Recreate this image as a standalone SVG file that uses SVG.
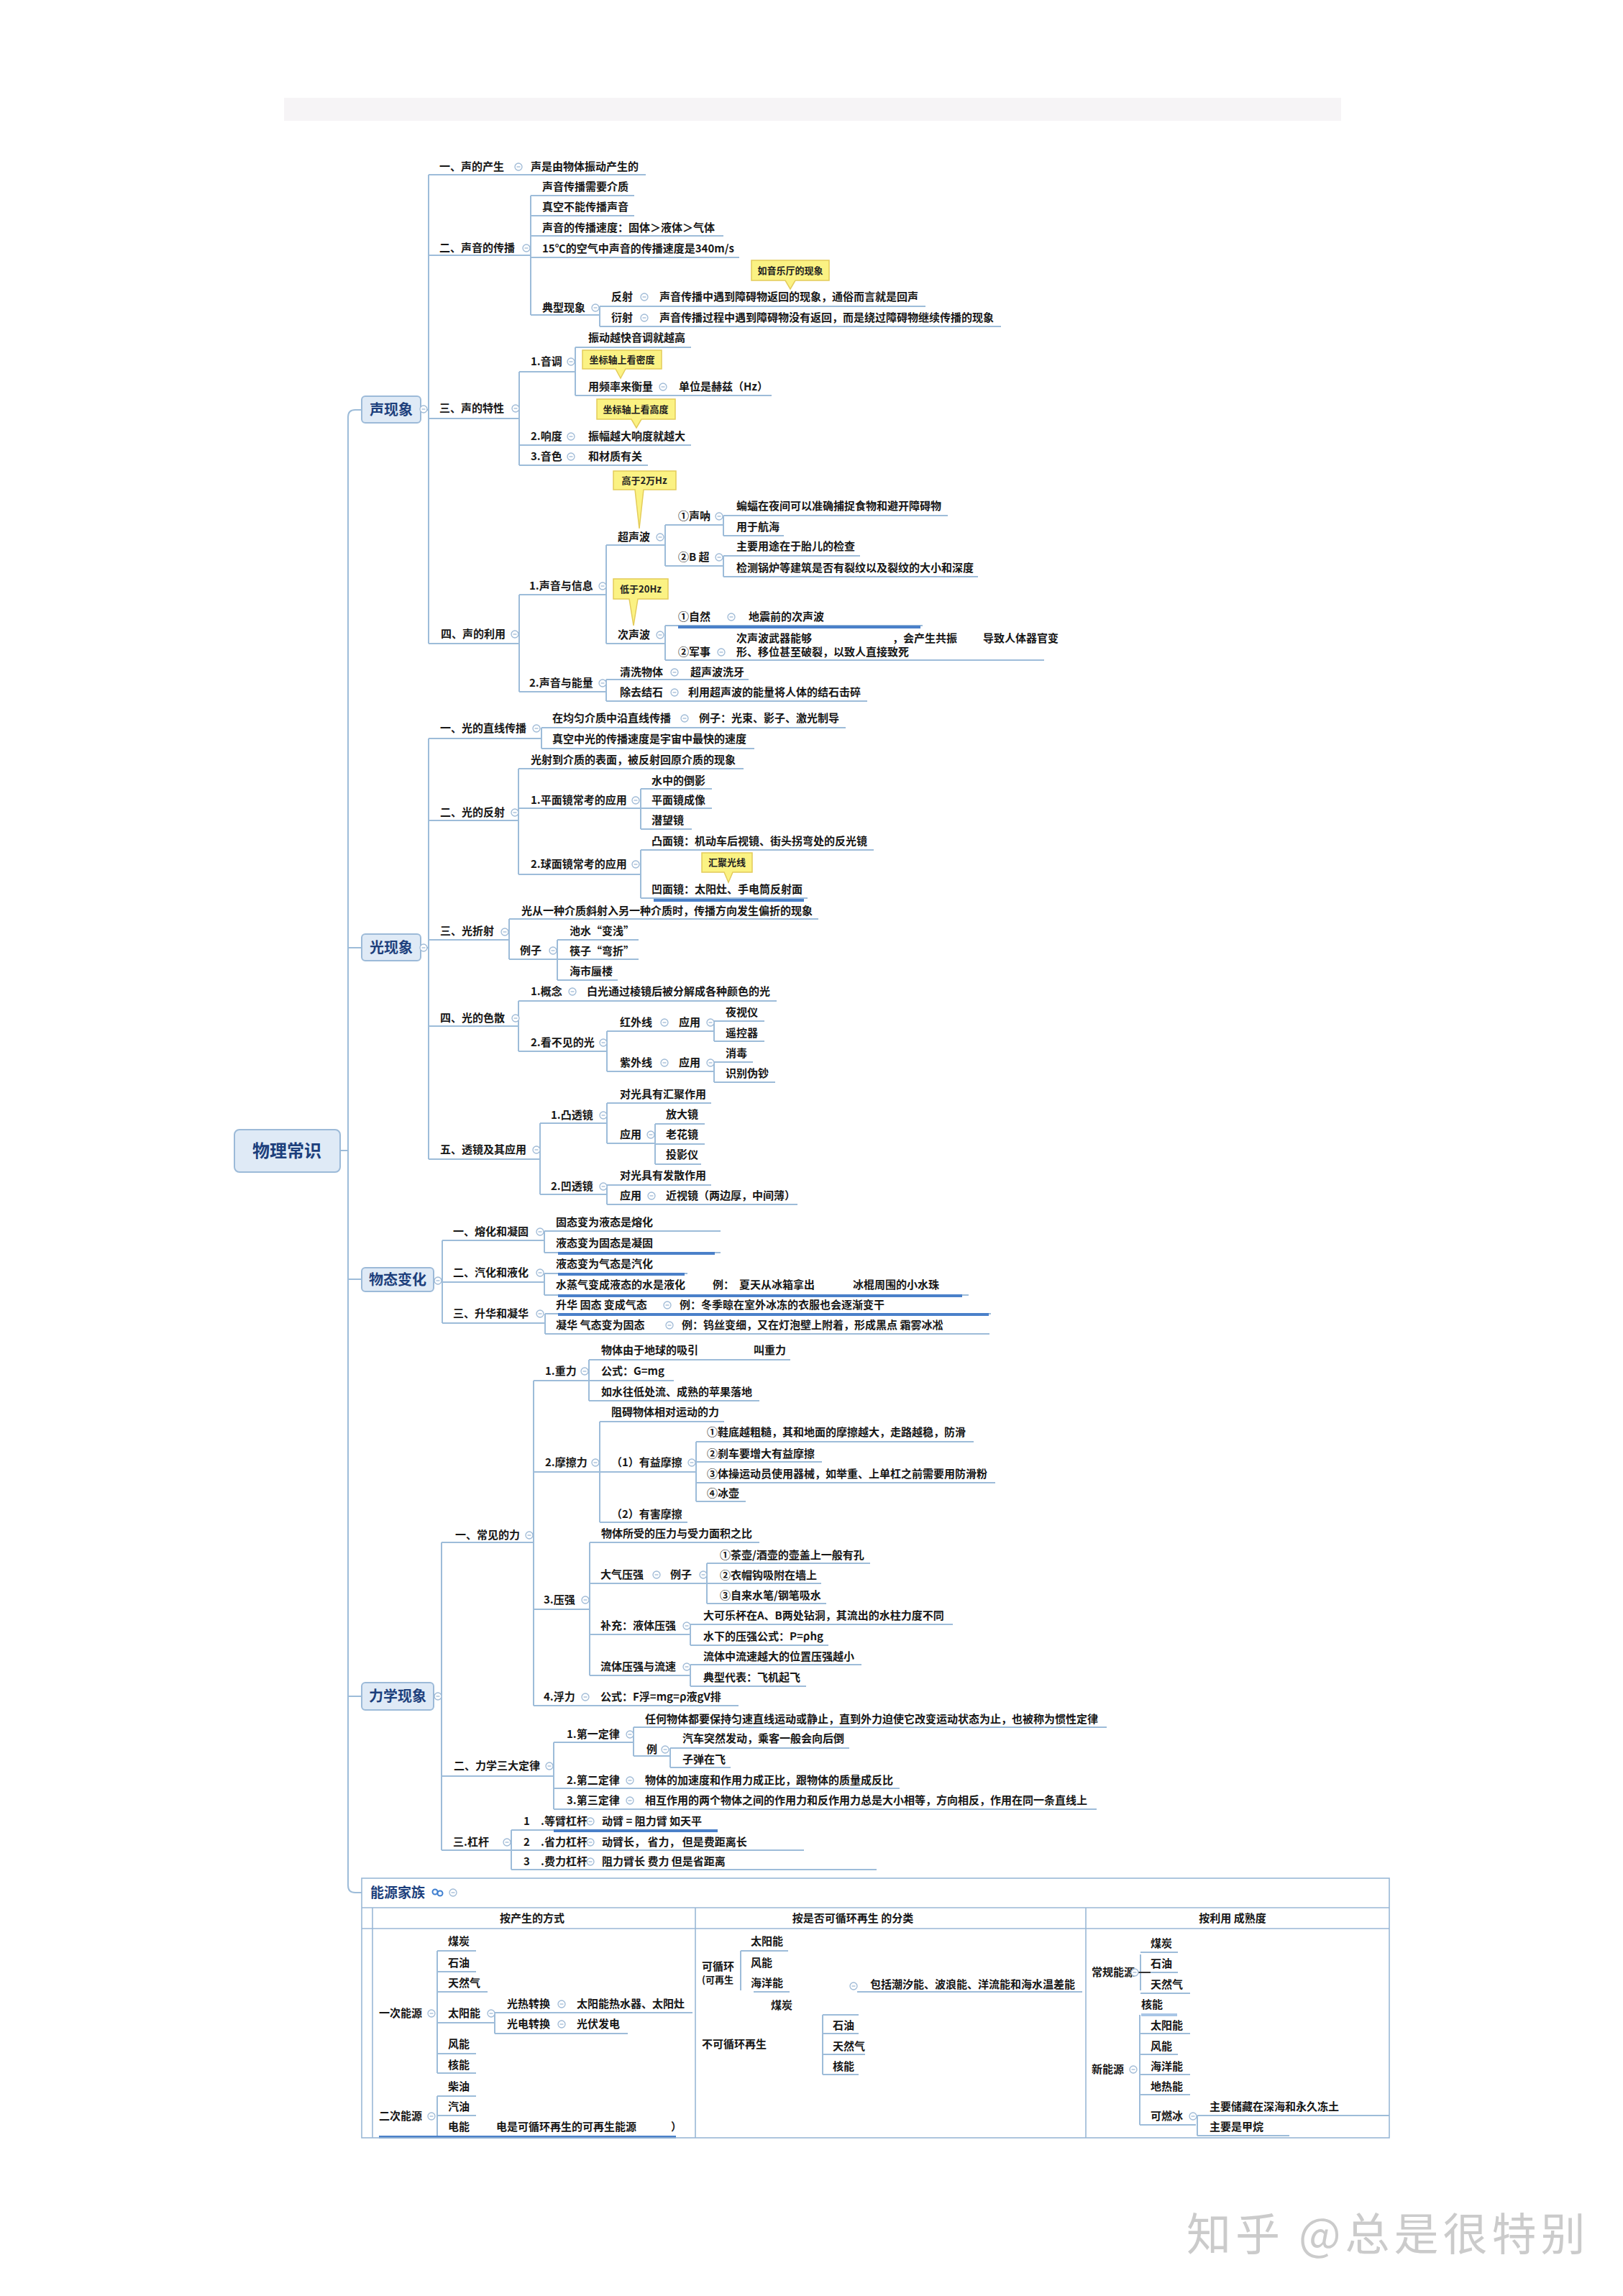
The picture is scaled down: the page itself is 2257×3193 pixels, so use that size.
<svg xmlns="http://www.w3.org/2000/svg" xmlns:xlink="http://www.w3.org/1999/xlink" width="2257" height="3193" viewBox="0 0 2257 3193">
<style>
.t{font-family:"Noto Sans CJK SC","Noto Sans",sans-serif;font-size:15px;font-weight:700;fill:#161616}
.tp{font-family:"Noto Sans CJK SC","Noto Sans",sans-serif;font-size:20px;font-weight:700;fill:#1d3f7c}
.ct{font-family:"Noto Sans CJK SC","Noto Sans",sans-serif;font-size:13px;font-weight:700;fill:#222;text-anchor:middle}
.c{fill:none;stroke:#9dbcd9;stroke-width:2}
.hb{fill:none;stroke:#4a80c9;stroke-width:4}
.cl{fill:#fbf283;stroke:#e4cc5a;stroke-width:1.5}
.box{fill:#dfeaf6;stroke:#9cbad8;stroke-width:2}
.fr{fill:none;stroke:#9ab8d6;stroke-width:1.6}
.wm{font-family:"Noto Sans CJK SC",sans-serif;font-size:62px;fill:#cbcbcb;letter-spacing:6px}
</style>
<defs>
<g id="m"><circle r="5" fill="#fff" stroke="#9fbad6" stroke-width="1.3"/><path d="M-2.5 0H2.5" stroke="#9fbad6" stroke-width="1.3"/></g>
</defs>
<rect width="2257" height="3193" fill="#fff"/>
<rect x="395" y="136" width="1470" height="32" fill="#f6f4f6"/>

<g id="connectors">
<path class="c" d="M473,1600H484M503,570H494Q484,570 484,580V2622Q484,2632 494,2632H503M484,1318H505M484,1779H503M484,2359H503"/>
<path class="c" d="M585,570H596M596,243V895M596,243H898M596,355H738M738,272V438M738,272H882M738,300H882M738,328H1006M738,358H1028M738,438H834M834,426V454M834,426H1287M834,454H1392M596,582H722M722,517V647M722,517H800M800,483V550M800,483H961M800,550H1073M722,619H961M722,647H901M596,895H722M722,827V962M722,827H843M843,758V895M843,758H925M925,730V787M925,730H1006M1006,717V745M1006,717H1318M1006,745H1090M925,787H1006M1006,773V802M1006,773H1196M1006,802H1360M843,895H925M925,870V918M925,870H1283M925,918H1452M722,962H843M843,945V975M843,945H1041M843,975H1206"/>
<path class="hb" d="M943,872H1280"/>
<path class="c" d="M585,1318H596M596,1027V1612M596,1027H753M753,1012V1041M753,1012H1176M753,1041H1049M596,1141H721M721,1069V1216M721,1069H1034M721,1124H891M891,1097V1153M891,1097H990M891,1124H990M891,1153H962M721,1216H891M891,1182V1249M891,1182H1215M891,1249H1123M596,1307H708M708,1278V1334M708,1278H1138M708,1334H775M775,1307V1363M775,1307H888M775,1334H888M775,1363H859M596,1427H721M721,1392V1462M721,1392H1080M721,1462H844M844,1434V1490M844,1434H992M993,1420V1448M993,1420H1063M993,1448H1063M844,1490H992M993,1477V1505M993,1477H1047M993,1505H1078M596,1612H751M751,1562V1661M751,1562H844M844,1534V1590M844,1534H989M844,1590H911M911,1563V1619M911,1563H980M911,1591H980M911,1619H975M751,1661H844M844,1648V1675M844,1648H989M844,1675H1109"/>
<path class="hb" d="M909,1252H1118"/>
<path class="c" d="M603,1779H615M615,1725V1840M615,1725H757M757,1712V1742M757,1712H1002M757,1742H1002M615,1783H757M757,1771V1801M757,1771H956M757,1801H1347M615,1840H758M758,1827V1855M758,1827H1378M758,1855H1376"/>
<path class="hb" d="M776,1743H994M776,1772H952M776,1802H1338M776,1828H1375"/>
<path class="c" d="M603,2359H614M614,2145V2573M614,2145H742M742,1920V2372M742,1920H819M819,1891V1948M819,1891H1099M819,1920H937M819,1948H1056M742,2047H834M834,1977V2117M834,1977H1007M834,2047H968M968,2005V2088M968,2005H1354M968,2033H1143M968,2062H1384M968,2088H1037M834,2117H956M742,2238H820M820,2145V2330M820,2145H1056M820,2202H983M983,2174V2230M983,2174H1210M983,2202H1142M983,2230H1149M820,2273H960M960,2259V2288M960,2259H1325M960,2288H1152M820,2330H960M960,2315V2345M960,2315H1198M960,2345H1121M742,2372H1027M614,2470H770M770,2423V2516M770,2423H881M881,2402V2442M881,2402H1539M881,2442H932M932,2431V2458M932,2431H1181M932,2458H1016M770,2487H1251M770,2516H1525M614,2573H711M711,2545V2600M711,2545H770M711,2573H1118M711,2600H1219"/>
<path class="hb" d="M770,2546H998"/>
<path class="c" d="M608,2713V2883M608,2713H662M608,2742H662M608,2770H678M608,2813H688M688,2799V2828M688,2799H963M688,2828H873M608,2856H662M608,2883H662M608,2915V2970M608,2915H662M608,2942H662M1030,2713V2768M1030,2713H1096M1048,2770H1098M1192,2770H1505M1144,2802V2885M1144,2802H1194M1144,2828H1194M1144,2857H1203M1144,2885H1194M1586,2718V2768M1586,2715H1638M1586,2743H1638M1586,2772H1655M1585,2802V2955M1585,2828H1655M1585,2857H1638M1585,2885H1655M1585,2913H1655M1585,2955H1663M1665,2942V2970M1665,2942H1932M1665,2970H1793"/>
<path class="hb" d="M527,2972H940"/>
<path d="M1587,2802H1637" stroke="#a9c6e6" stroke-width="4"/>
<path d="M1582,2743H1600" stroke="#333" stroke-width="2"/>
</g>

<g id="root"><rect class="box" x="326" y="1571" width="147" height="59" rx="7"/><text x="399" y="1609" text-anchor="middle" style="font-family:'Noto Sans CJK SC',sans-serif;font-size:24px;font-weight:700;fill:#1d3f7c">物理常识</text></g>

<g id="topic-sound"><rect class="box" x="503" y="551" width="82" height="37" rx="5"/><text class="tp" x="544" y="577" text-anchor="middle">声现象</text><use href="#m" x="589" y="569"/></g>
<g id="topic-light"><rect class="box" x="503" y="1299" width="82" height="37" rx="5"/><text class="tp" x="544" y="1325" text-anchor="middle">光现象</text><use href="#m" x="589" y="1318"/></g>
<g id="topic-state"><rect class="box" x="503" y="1763" width="100" height="33" rx="5"/><text class="tp" x="553" y="1787" text-anchor="middle">物态变化</text><use href="#m" x="609" y="1781"/></g>
<g id="topic-mech"><rect class="box" x="503" y="2340" width="100" height="38" rx="5"/><text class="tp" x="553" y="2366" text-anchor="middle">力学现象</text><use href="#m" x="609" y="2359"/></g>

<!-- sound -->
<g id="s1"><text class="t" x="611" y="237">一、声的产生</text><use href="#m" x="721" y="232"/><text class="t" x="738" y="237">声是由物体振动产生的</text></g>
<g id="s2"><text class="t" x="611" y="350">二、声音的传播</text><use href="#m" x="732" y="345"/></g>
<g id="s2a"><text class="t" x="754" y="265">声音传播需要介质</text></g>
<g id="s2b"><text class="t" x="754" y="293">真空不能传播声音</text></g>
<g id="s2c"><text class="t" x="754" y="322">声音的传播速度：固体＞液体＞气体</text></g>
<g id="s2d"><text class="t" x="754" y="351">15℃的空气中声音的传播速度是340m/s</text></g>
<g id="s2e"><text class="t" x="754" y="433">典型现象</text><use href="#m" x="828" y="428"/></g>
<g id="s2e1"><text class="t" x="850" y="418">反射</text><use href="#m" x="896" y="413"/><text class="t" x="917" y="418">声音传播中遇到障碍物返回的现象，通俗而言就是回声</text></g>
<g id="s2e2"><text class="t" x="850" y="447">衍射</text><use href="#m" x="896" y="442"/><text class="t" x="917" y="447">声音传播过程中遇到障碍物没有返回，而是绕过障碍物继续传播的现象</text></g>
<g id="callout1"><path class="cl" d="M1045,362H1153V390H1106L1099,402L1092,390H1045Z"/><text class="ct" x="1099" y="381">如音乐厅的现象</text></g>
<g id="s3"><text class="t" x="611" y="573">三、声的特性</text><use href="#m" x="717" y="568"/></g>
<g id="s3a"><text class="t" x="738" y="508">1.音调</text><use href="#m" x="794" y="503"/></g>
<g id="s3a1"><text class="t" x="818" y="475">振动越快音调就越高</text></g>
<g id="callout2"><path class="cl" d="M810,487H920V513H870L863,526L856,513H810Z"/><text class="ct" x="865" y="505">坐标轴上看密度</text></g>
<g id="s3a2"><text class="t" x="818" y="543">用频率来衡量</text><use href="#m" x="922" y="538"/><text class="t" x="944" y="543">单位是赫兹（Hz）</text></g>
<g id="callout3"><path class="cl" d="M830,555H939V583H892L885,595L878,583H830Z"/><text class="ct" x="884" y="574">坐标轴上看高度</text></g>
<g id="s3b"><text class="t" x="738" y="612">2.响度</text><use href="#m" x="794" y="607"/><text class="t" x="818" y="612">振幅越大响度就越大</text></g>
<g id="s3c"><text class="t" x="738" y="640">3.音色</text><use href="#m" x="794" y="635"/><text class="t" x="818" y="640">和材质有关</text></g>
<g id="callout4"><path class="cl" d="M853,655H940V681H895L889,735L883,681H853Z"/><text class="ct" x="896" y="673">高于2万Hz</text></g>
<g id="s4"><text class="t" x="613" y="887">四、声的利用</text><use href="#m" x="716" y="882"/></g>
<g id="s4a"><text class="t" x="736" y="820">1.声音与信息</text><use href="#m" x="838" y="815"/></g>
<g id="s4a1"><text class="t" x="859" y="752">超声波</text><use href="#m" x="918" y="747"/></g>
<g id="s4a1a"><text class="t" x="943" y="723">①声呐</text><use href="#m" x="1000" y="718"/></g>
<g id="s4a1a1"><text class="t" x="1024" y="709">蝙蝠在夜间可以准确捕捉食物和避开障碍物</text></g>
<g id="s4a1a2"><text class="t" x="1024" y="738">用于航海</text></g>
<g id="s4a1b"><text class="t" x="943" y="780">②B 超</text><use href="#m" x="1000" y="775"/></g>
<g id="s4a1b1"><text class="t" x="1024" y="765">主要用途在于胎儿的检查</text></g>
<g id="s4a1b2"><text class="t" x="1024" y="795">检测锅炉等建筑是否有裂纹以及裂纹的大小和深度</text></g>
<g id="callout5"><path class="cl" d="M853,805H929V833H887L881,870L875,833H853Z"/><text class="ct" x="891" y="824">低于20Hz</text></g>
<g id="s4a2"><text class="t" x="859" y="888">次声波</text><use href="#m" x="918" y="883"/></g>
<g id="s4a2a"><text class="t" x="943" y="863">①自然</text><use href="#m" x="1017" y="858"/><text class="t" x="1041" y="863">地震前的次声波</text></g>
<g id="s4a2b"><text class="t" x="943" y="912">②军事</text><use href="#m" x="1003" y="907"/><text class="t" x="1024" y="893">次声波武器能够</text><text class="t" x="1241" y="893">，会产生共振</text><text class="t" x="1367" y="893">导致人体器官变</text><text class="t" x="1024" y="912">形、移位甚至破裂，以致人直接致死</text></g>
<g id="s4b"><text class="t" x="736" y="955">2.声音与能量</text><use href="#m" x="838" y="950"/></g>
<g id="s4b1"><text class="t" x="862" y="940">清洗物体</text><use href="#m" x="938" y="935"/><text class="t" x="960" y="940">超声波洗牙</text></g>
<g id="s4b2"><text class="t" x="862" y="968">除去结石</text><use href="#m" x="938" y="963"/><text class="t" x="957" y="968">利用超声波的能量将人体的结石击碎</text></g>

<!-- light -->
<g id="l1"><text class="t" x="612" y="1018">一、光的直线传播</text><use href="#m" x="746" y="1013"/></g>
<g id="l1a"><text class="t" x="768" y="1004">在均匀介质中沿直线传播</text><use href="#m" x="952" y="999"/><text class="t" x="972" y="1004">例子：光束、影子、激光制导</text></g>
<g id="l1b"><text class="t" x="768" y="1033">真空中光的传播速度是宇宙中最快的速度</text></g>
<g id="l2"><text class="t" x="612" y="1135">二、光的反射</text><use href="#m" x="716" y="1130"/></g>
<g id="l2a"><text class="t" x="738" y="1062">光射到介质的表面，被反射回原介质的现象</text></g>
<g id="l2b"><text class="t" x="738" y="1118">1.平面镜常考的应用</text><use href="#m" x="884" y="1113"/></g>
<g id="l2b1"><text class="t" x="906" y="1091">水中的倒影</text></g>
<g id="l2b2"><text class="t" x="906" y="1118">平面镜成像</text></g>
<g id="l2b3"><text class="t" x="906" y="1146">潜望镜</text></g>
<g id="l2c"><text class="t" x="738" y="1207">2.球面镜常考的应用</text><use href="#m" x="884" y="1202"/></g>
<g id="l2c1"><text class="t" x="906" y="1175">凸面镜：机动车后视镜、街头拐弯处的反光镜</text></g>
<g id="callout6"><path class="cl" d="M976,1186H1046V1213H1019L1013,1227L1007,1213H976Z"/><text class="ct" x="1011" y="1204">汇聚光线</text></g>
<g id="l2c2"><text class="t" x="906" y="1242">凹面镜：太阳灶、手电筒反射面</text></g>
<g id="l3"><text class="t" x="612" y="1300">三、光折射</text><use href="#m" x="702" y="1296"/></g>
<g id="l3a"><text class="t" x="725" y="1272">光从一种介质斜射入另一种介质时，传播方向发生偏折的现象</text></g>
<g id="l3b"><text class="t" x="723" y="1327">例子</text><use href="#m" x="769" y="1322"/></g>
<g id="l3b1"><text class="t" x="792" y="1300">池水“变浅”</text></g>
<g id="l3b2"><text class="t" x="792" y="1328">筷子“弯折”</text></g>
<g id="l3b3"><text class="t" x="792" y="1356">海市蜃楼</text></g>
<g id="l4"><text class="t" x="612" y="1421">四、光的色散</text><use href="#m" x="717" y="1416"/></g>
<g id="l4a"><text class="t" x="738" y="1384">1.概念</text><use href="#m" x="796" y="1379"/><text class="t" x="816" y="1384">白光通过棱镜后被分解成各种颜色的光</text></g>
<g id="l4b"><text class="t" x="738" y="1455">2.看不见的光</text><use href="#m" x="839" y="1450"/></g>
<g id="l4b1"><text class="t" x="862" y="1427">红外线</text><use href="#m" x="924" y="1422"/><text class="t" x="944" y="1427">应用</text><use href="#m" x="988" y="1422"/></g>
<g id="l4b1a"><text class="t" x="1009" y="1413">夜视仪</text></g>
<g id="l4b1b"><text class="t" x="1009" y="1442">遥控器</text></g>
<g id="l4b2"><text class="t" x="862" y="1483">紫外线</text><use href="#m" x="924" y="1478"/><text class="t" x="944" y="1483">应用</text><use href="#m" x="988" y="1478"/></g>
<g id="l4b2a"><text class="t" x="1009" y="1470">消毒</text></g>
<g id="l4b2b"><text class="t" x="1009" y="1498">识别伪钞</text></g>
<g id="l5"><text class="t" x="612" y="1604">五、透镜及其应用</text><use href="#m" x="746" y="1599"/></g>
<g id="l5a"><text class="t" x="766" y="1556">1.凸透镜</text><use href="#m" x="839" y="1551"/></g>
<g id="l5a1"><text class="t" x="862" y="1527">对光具有汇聚作用</text></g>
<g id="l5a2"><text class="t" x="862" y="1583">应用</text><use href="#m" x="905" y="1578"/></g>
<g id="l5a2a"><text class="t" x="926" y="1555">放大镜</text></g>
<g id="l5a2b"><text class="t" x="926" y="1583">老花镜</text></g>
<g id="l5a2c"><text class="t" x="926" y="1611">投影仪</text></g>
<g id="l5b"><text class="t" x="766" y="1655">2.凹透镜</text><use href="#m" x="839" y="1650"/></g>
<g id="l5b1"><text class="t" x="862" y="1640">对光具有发散作用</text></g>
<g id="l5b2"><text class="t" x="862" y="1668">应用</text><use href="#m" x="906" y="1663"/><text class="t" x="926" y="1668">近视镜（两边厚，中间薄）</text></g>

<!-- states -->
<g id="w1"><text class="t" x="630" y="1718">一、熔化和凝固</text><use href="#m" x="751" y="1713"/></g>
<g id="w1a"><text class="t" x="773" y="1705">固态变为液态是熔化</text></g>
<g id="w1b"><text class="t" x="773" y="1734">液态变为固态是凝固</text></g>
<g id="w2"><text class="t" x="630" y="1775">二、汽化和液化</text><use href="#m" x="751" y="1770"/></g>
<g id="w2a"><text class="t" x="773" y="1763">液态变为气态是汽化</text></g>
<g id="w2b"><text class="t" x="773" y="1792">水蒸气变成液态的水是液化</text><text class="t" x="991" y="1792">例：</text><text class="t" x="1028" y="1792">夏天从冰箱拿出</text><text class="t" x="1186" y="1792">冰棍周围的小水珠</text></g>
<g id="w3"><text class="t" x="630" y="1832">三、升华和凝华</text><use href="#m" x="751" y="1827"/></g>
<g id="w3a"><text class="t" x="773" y="1820">升华 固态 变成气态</text><use href="#m" x="928" y="1815"/><text class="t" x="945" y="1820">例：冬季晾在室外冰冻的衣服也会逐渐变干</text></g>
<g id="w3b"><text class="t" x="773" y="1848">凝华 气态变为固态</text><use href="#m" x="931" y="1843"/><text class="t" x="948" y="1848">例：钨丝变细，又在灯泡壁上附着，形成黑点 霜雾冰凇</text></g>

<!-- mechanics -->
<g id="m1"><text class="t" x="633" y="2140">一、常见的力</text><use href="#m" x="736" y="2135"/></g>
<g id="m1a"><text class="t" x="758" y="1912">1.重力</text><use href="#m" x="813" y="1907"/></g>
<g id="m1a1"><text class="t" x="836" y="1883">物体由于地球的吸引</text><text class="t" x="1048" y="1883">叫重力</text></g>
<g id="m1a2"><text class="t" x="836" y="1912">公式：G=mg</text></g>
<g id="m1a3"><text class="t" x="836" y="1941">如水往低处流、成熟的苹果落地</text></g>
<g id="m1b"><text class="t" x="758" y="2039">2.摩擦力</text><use href="#m" x="828" y="2034"/></g>
<g id="m1b1"><text class="t" x="850" y="1969">阻碍物体相对运动的力</text></g>
<g id="m1b2"><text class="t" x="850" y="2039">（1）有益摩擦</text><use href="#m" x="962" y="2034"/></g>
<g id="m1b2a"><text class="t" x="983" y="1997">①鞋底越粗糙，其和地面的摩擦越大，走路越稳，防滑</text></g>
<g id="m1b2b"><text class="t" x="983" y="2027">②刹车要增大有益摩擦</text></g>
<g id="m1b2c"><text class="t" x="983" y="2055">③体操运动员使用器械，如举重、上单杠之前需要用防滑粉</text></g>
<g id="m1b2d"><text class="t" x="983" y="2082">④冰壶</text></g>
<g id="m1b3"><text class="t" x="850" y="2111">（2）有害摩擦</text></g>
<g id="m1c"><text class="t" x="756" y="2230">3.压强</text><use href="#m" x="814" y="2225"/></g>
<g id="m1c1"><text class="t" x="836" y="2138">物体所受的压力与受力面积之比</text></g>
<g id="m1c2"><text class="t" x="835" y="2195">大气压强</text><use href="#m" x="913" y="2190"/><text class="t" x="932" y="2195">例子</text><use href="#m" x="978" y="2190"/></g>
<g id="m1c2a"><text class="t" x="1001" y="2168">①茶壶/酒壶的壶盖上一般有孔</text></g>
<g id="m1c2b"><text class="t" x="1001" y="2196">②衣帽钩吸附在墙上</text></g>
<g id="m1c2c"><text class="t" x="1001" y="2224">③自来水笔/钢笔吸水</text></g>
<g id="m1c3"><text class="t" x="835" y="2266">补充：液体压强</text><use href="#m" x="955" y="2261"/></g>
<g id="m1c3a"><text class="t" x="978" y="2252">大可乐杯在A、B两处钻洞，其流出的水柱力度不同</text></g>
<g id="m1c3b"><text class="t" x="978" y="2281">水下的压强公式：P=ρhg</text></g>
<g id="m1c4"><text class="t" x="835" y="2323">流体压强与流速</text><use href="#m" x="955" y="2318"/></g>
<g id="m1c4a"><text class="t" x="978" y="2309">流体中流速越大的位置压强越小</text></g>
<g id="m1c4b"><text class="t" x="978" y="2338">典型代表：飞机起飞</text></g>
<g id="m1d"><text class="t" x="756" y="2365">4.浮力</text><use href="#m" x="814" y="2360"/><text class="t" x="835" y="2365">公式：F浮=mg=ρ液gV排</text></g>
<g id="m2"><text class="t" x="631" y="2461">二、力学三大定律</text><use href="#m" x="764" y="2456"/></g>
<g id="m2a"><text class="t" x="788" y="2417">1.第一定律</text><use href="#m" x="876" y="2412"/></g>
<g id="m2a1"><text class="t" x="897" y="2396">任何物体都要保持匀速直线运动或静止，直到外力迫使它改变运动状态为止，也被称为惯性定律</text></g>
<g id="m2a2"><text class="t" x="899" y="2438">例</text><use href="#m" x="925" y="2433"/></g>
<g id="m2a2a"><text class="t" x="949" y="2423">汽车突然发动，乘客一般会向后倒</text></g>
<g id="m2a2b"><text class="t" x="949" y="2452">子弹在飞</text></g>
<g id="m2b"><text class="t" x="788" y="2481">2.第二定律</text><use href="#m" x="876" y="2476"/><text class="t" x="897" y="2481">物体的加速度和作用力成正比，跟物体的质量成反比</text></g>
<g id="m2c"><text class="t" x="788" y="2509">3.第三定律</text><use href="#m" x="876" y="2504"/><text class="t" x="897" y="2509">相互作用的两个物体之间的作用力和反作用力总是大小相等，方向相反，作用在同一条直线上</text></g>
<g id="m3"><text class="t" x="630" y="2567">三.杠杆</text><use href="#m" x="705" y="2562"/></g>
<g id="m3a"><text class="t" x="728" y="2538">1</text><text class="t" x="752" y="2538">.等臂杠杆</text><use href="#m" x="821" y="2533"/><text class="t" x="837" y="2538">动臂 = 阻力臂   如天平</text></g>
<g id="m3b"><text class="t" x="728" y="2567">2</text><text class="t" x="752" y="2567">.省力杠杆</text><use href="#m" x="821" y="2562"/><text class="t" x="837" y="2567">动臂长， 省力， 但是费距离长</text></g>
<g id="m3c"><text class="t" x="728" y="2594">3</text><text class="t" x="752" y="2594">.费力杠杆</text><use href="#m" x="821" y="2589"/><text class="t" x="837" y="2594">阻力臂长 费力 但是省距离</text></g>

<!-- energy table -->
<g id="energy">
<rect class="fr" x="503" y="2612" width="1429" height="361"/>
<path class="fr" d="M503,2653H1932M503,2682H1932M518,2653V2973M967,2653V2973M1510,2653V2973"/>
<text class="tp" x="515" y="2639" style="font-size:19px">能源家族</text>
<circle cx="605" cy="2631" r="3.5" fill="none" stroke="#3f7fd0" stroke-width="2"/><circle cx="612" cy="2633" r="3.5" fill="none" stroke="#3f7fd0" stroke-width="2"/>
<use href="#m" x="630" y="2632"/>
<text class="t" x="740" y="2673" text-anchor="middle">按产生的方式</text>
<text class="t" x="1186" y="2673" text-anchor="middle">按是否可循环再生 的分类</text>
<text class="t" x="1714" y="2673" text-anchor="middle">按利用 成熟度</text>
</g>
<g id="e1"><text class="t" x="527" y="2805">一次能源</text><use href="#m" x="600" y="2800"/></g>
<g id="e1a"><text class="t" x="623" y="2705">煤炭</text></g>
<g id="e1b"><text class="t" x="623" y="2735">石油</text></g>
<g id="e1c"><text class="t" x="623" y="2763">天然气</text></g>
<g id="e1d"><text class="t" x="623" y="2805">太阳能</text><use href="#m" x="683" y="2800"/></g>
<g id="e1d1"><text class="t" x="705" y="2792">光热转换</text><use href="#m" x="781" y="2787"/><text class="t" x="802" y="2792">太阳能热水器、太阳灶</text></g>
<g id="e1d2"><text class="t" x="705" y="2820">光电转换</text><use href="#m" x="781" y="2815"/><text class="t" x="802" y="2820">光伏发电</text></g>
<g id="e1e"><text class="t" x="623" y="2848">风能</text></g>
<g id="e1f"><text class="t" x="623" y="2877">核能</text></g>
<g id="e2"><text class="t" x="527" y="2948">二次能源</text><use href="#m" x="600" y="2943"/></g>
<g id="e2a"><text class="t" x="623" y="2907">柴油</text></g>
<g id="e2b"><text class="t" x="623" y="2935">汽油</text></g>
<g id="e2c"><text class="t" x="623" y="2963">电能</text><text class="t" x="690" y="2963">电是可循环再生的可再生能源</text><text class="t" x="933" y="2963">）</text></g>
<g id="e3"><text class="t" x="976" y="2740">可循环</text><text class="t" x="976" y="2758" style="font-size:13px">(可再生</text></g>
<g id="e3a"><text class="t" x="1044" y="2705">太阳能</text></g>
<g id="e3b"><text class="t" x="1044" y="2735">风能</text></g>
<g id="e3c"><text class="t" x="1044" y="2763">海洋能</text></g>
<g id="e3d"><use href="#m" x="1187" y="2762"/><text class="t" x="1210" y="2765">包括潮汐能、波浪能、洋流能和海水温差能</text></g>
<g id="e3e"><text class="t" x="1072" y="2794">煤炭</text></g>
<g id="e4"><text class="t" x="976" y="2848">不可循环再生</text></g>
<g id="e4a"><text class="t" x="1158" y="2822">石油</text></g>
<g id="e4b"><text class="t" x="1158" y="2851">天然气</text></g>
<g id="e4c"><text class="t" x="1158" y="2879">核能</text></g>
<g id="e5"><text class="t" x="1518" y="2748">常规能源</text><use href="#m" x="1578" y="2743"/></g>
<g id="e5a"><text class="t" x="1600" y="2708">煤炭</text></g>
<g id="e5b"><text class="t" x="1600" y="2736">石油</text></g>
<g id="e5c"><text class="t" x="1600" y="2765">天然气</text></g>
<g id="e6"><text class="t" x="1518" y="2883">新能源</text><use href="#m" x="1576" y="2878"/></g>
<g id="e6a"><text class="t" x="1587" y="2793">核能</text></g>
<g id="e6b"><text class="t" x="1600" y="2822">太阳能</text></g>
<g id="e6c"><text class="t" x="1600" y="2851">风能</text></g>
<g id="e6d"><text class="t" x="1600" y="2879">海洋能</text></g>
<g id="e6e"><text class="t" x="1600" y="2907">地热能</text></g>
<g id="e6f"><text class="t" x="1600" y="2948">可燃冰</text><use href="#m" x="1659" y="2943"/></g>
<g id="e6f1"><text class="t" x="1682" y="2935">主要储藏在深海和永久冻土</text></g>
<g id="e6f2"><text class="t" x="1682" y="2963">主要是甲烷</text></g>

<text class="wm" x="1650" y="3130">知乎 @总是很特别</text>
</svg>
